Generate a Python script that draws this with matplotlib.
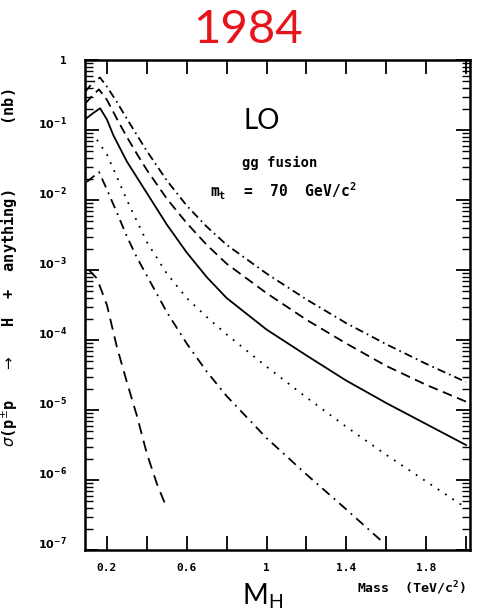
import numpy as np
import matplotlib
matplotlib.use("Agg")
import matplotlib.pyplot as plt
import matplotlib.transforms as mtransforms
from matplotlib.ticker import FixedLocator, LogLocator, FuncFormatter, NullFormatter

# Curves: Higgs mass (TeV/c^2) and log10(sigma / nb)
upper_dashdot_mass = [0.092, 0.13, 0.165, 0.20, 0.25, 0.30, 0.35, 0.40, 0.50, 0.60,
                      0.70, 0.80, 1.00, 1.20, 1.40, 1.60, 1.80, 2.00]
upper_dashdot_logsig = [-0.45, -0.32, -0.25, -0.38, -0.60, -0.84, -1.07, -1.30, -1.72, -2.08,
                        -2.38, -2.64, -3.05, -3.42, -3.76, -4.06, -4.34, -4.60]

upper_dashed_mass = [0.092, 0.13, 0.16, 0.20, 0.25, 0.30, 0.35, 0.40, 0.50, 0.60,
                     0.70, 0.80, 1.00, 1.20, 1.40, 1.60, 1.80, 2.00]
upper_dashed_logsig = [-0.62, -0.50, -0.42, -0.57, -0.84, -1.10, -1.34, -1.57, -1.98, -2.33,
                       -2.64, -2.91, -3.33, -3.71, -4.05, -4.37, -4.64, -4.88]

solid_mass = [0.09, 0.13, 0.166, 0.20, 0.233, 0.30, 0.40, 0.50, 0.60, 0.70,
              0.80, 1.00, 1.20, 1.40, 1.60, 1.80, 2.00]
solid_logsig = [-0.85, -0.76, -0.69, -0.85, -1.08, -1.45, -1.90, -2.35, -2.75, -3.10,
                -3.40, -3.85, -4.22, -4.58, -4.90, -5.20, -5.50]

dotted_mass = [0.15, 0.20, 0.25, 0.30, 0.35, 0.40, 0.50, 0.60, 0.70, 0.80,
               1.00, 1.20, 1.40, 1.60, 1.80, 1.98]
dotted_logsig = [-1.14, -1.35, -1.67, -2.00, -2.30, -2.60, -3.05, -3.40, -3.67, -3.92,
                 -4.38, -4.82, -5.24, -5.64, -6.02, -6.36]

lower_dashdot_mass = [0.10, 0.13, 0.16, 0.20, 0.25, 0.30, 0.35, 0.40, 0.50, 0.60,
                      0.70, 0.80, 1.00, 1.20, 1.40, 1.58]
lower_dashdot_logsig = [-1.74, -1.67, -1.60, -1.85, -2.18, -2.52, -2.82, -3.08, -3.60, -4.05,
                        -4.45, -4.80, -5.40, -5.92, -6.42, -6.88]

steep_dashed_mass = [0.11, 0.15, 0.20, 0.25, 0.30, 0.35, 0.40, 0.45, 0.50]
steep_dashed_logsig = [-3.00, -3.12, -3.50, -4.10, -4.60, -5.08, -5.62, -6.05, -6.40]

x_ticks = [0.2, 0.4, 0.6, 0.8, 1.0, 1.2, 1.4, 1.6, 1.8, 2.0]
x_tick_labels = ["0.2", "", "0.6", "", "1", "", "1.4", "", "1.8", ""]
y_decades = [1e-7, 1e-6, 1e-5, 1e-4, 1e-3, 1e-2, 1e-1, 1]

plt.rcParams['lines.scale_dashes'] = False
mono = 'DejaVu Sans Mono'

fig = plt.figure(figsize=(4.82, 6.11), dpi=100)
ax = fig.add_axes([0.1763, 0.0998, 0.7988, 0.802])

curves = [
    (upper_dashdot_mass, upper_dashdot_logsig, (0, (6, 3, 1.2, 3))),
    (upper_dashed_mass, upper_dashed_logsig, (0, (7, 4))),
    (solid_mass, solid_logsig, '-'),
    (dotted_mass, dotted_logsig, (0, (1.3, 5))),
    (lower_dashdot_mass, lower_dashdot_logsig, (0, (7, 4, 1.3, 4))),
    (steep_dashed_mass, steep_dashed_logsig, (0, (8, 5))),
]
for mass, logsig, ls in curves:
    ax.plot(mass, 10.0 ** np.array(logsig), color='black', linewidth=1.3, linestyle=ls)

ax.set_yscale('log')
ax.set_xlim(0.09, 2.02)
ax.set_ylim(1e-7, 1)

ax.xaxis.set_major_locator(FixedLocator(x_ticks))
ax.set_xticklabels(x_tick_labels)
ax.yaxis.set_major_locator(FixedLocator(y_decades))
ax.yaxis.set_minor_locator(LogLocator(base=10, subs=np.arange(2, 10), numticks=20))
ax.yaxis.set_minor_formatter(NullFormatter())
ax.yaxis.set_major_formatter(FuncFormatter(
    lambda v, pos: '1' if v == 1 else r'$\mathbf{10^{%d}}$' % round(np.log10(v))))

ax.tick_params(which='both', direction='in', top=True, right=True, color='black')
ax.tick_params(which='major', length=10, width=1.3)
ax.tick_params(which='minor', length=6, width=1.0)
ax.tick_params(axis='x', pad=9, labelsize=8)
ax.tick_params(axis='y', pad=13, labelsize=8)
for lab in ax.get_xticklabels() + ax.get_yticklabels():
    lab.set_fontfamily(mono)
    lab.set_fontweight('bold')

# exponent labels sit a little above their tick on the scan
shift = mtransforms.ScaledTranslation(0, 6 / 72, fig.dpi_scale_trans)
for lab in ax.get_yticklabels()[:-1]:
    lab.set_transform(lab.get_transform() + shift)

for sp in ax.spines.values():
    sp.set_linewidth(1.8)

ax.set_ylabel(r'$\sigma$(p$^{\pm}$p   $\rightarrow$   H  +  anything)       (nb)',
              family=mono, fontweight='bold', fontsize=11)
ax.yaxis.set_label_coords(-0.168, 0.575)

# annotations inside the frame
ax.text(0.46, 0.875, 'LO', transform=ax.transAxes, ha='center', va='center',
        family='Lato', fontsize=20)
ax.text(0.505, 0.79, 'gg fusion', transform=ax.transAxes, ha='center', va='center',
        family=mono, fontweight='bold', fontsize=10)
ax.text(0.515, 0.733, r'm$_\mathregular{t}$  =  70  GeV/c$^\mathregular{2}$', transform=ax.transAxes,
        ha='center', va='center', family=mono, fontweight='bold', fontsize=10.5)

fig.text(0.515, 0.951, '1984', ha='center', va='center', color='#e8141c',
         family='Lato', fontsize=34)
fig.text(0.545, 0.025, r'M$_\mathregular{H}$', ha='center', va='center',
         family='Lato', fontsize=20)
fig.text(0.855, 0.037, r'Mass  (TeV/c$^\mathregular{2}$)', ha='center', va='center',
         family=mono, fontweight='bold', fontsize=9.5)

fig.savefig('out.png', dpi=100)
